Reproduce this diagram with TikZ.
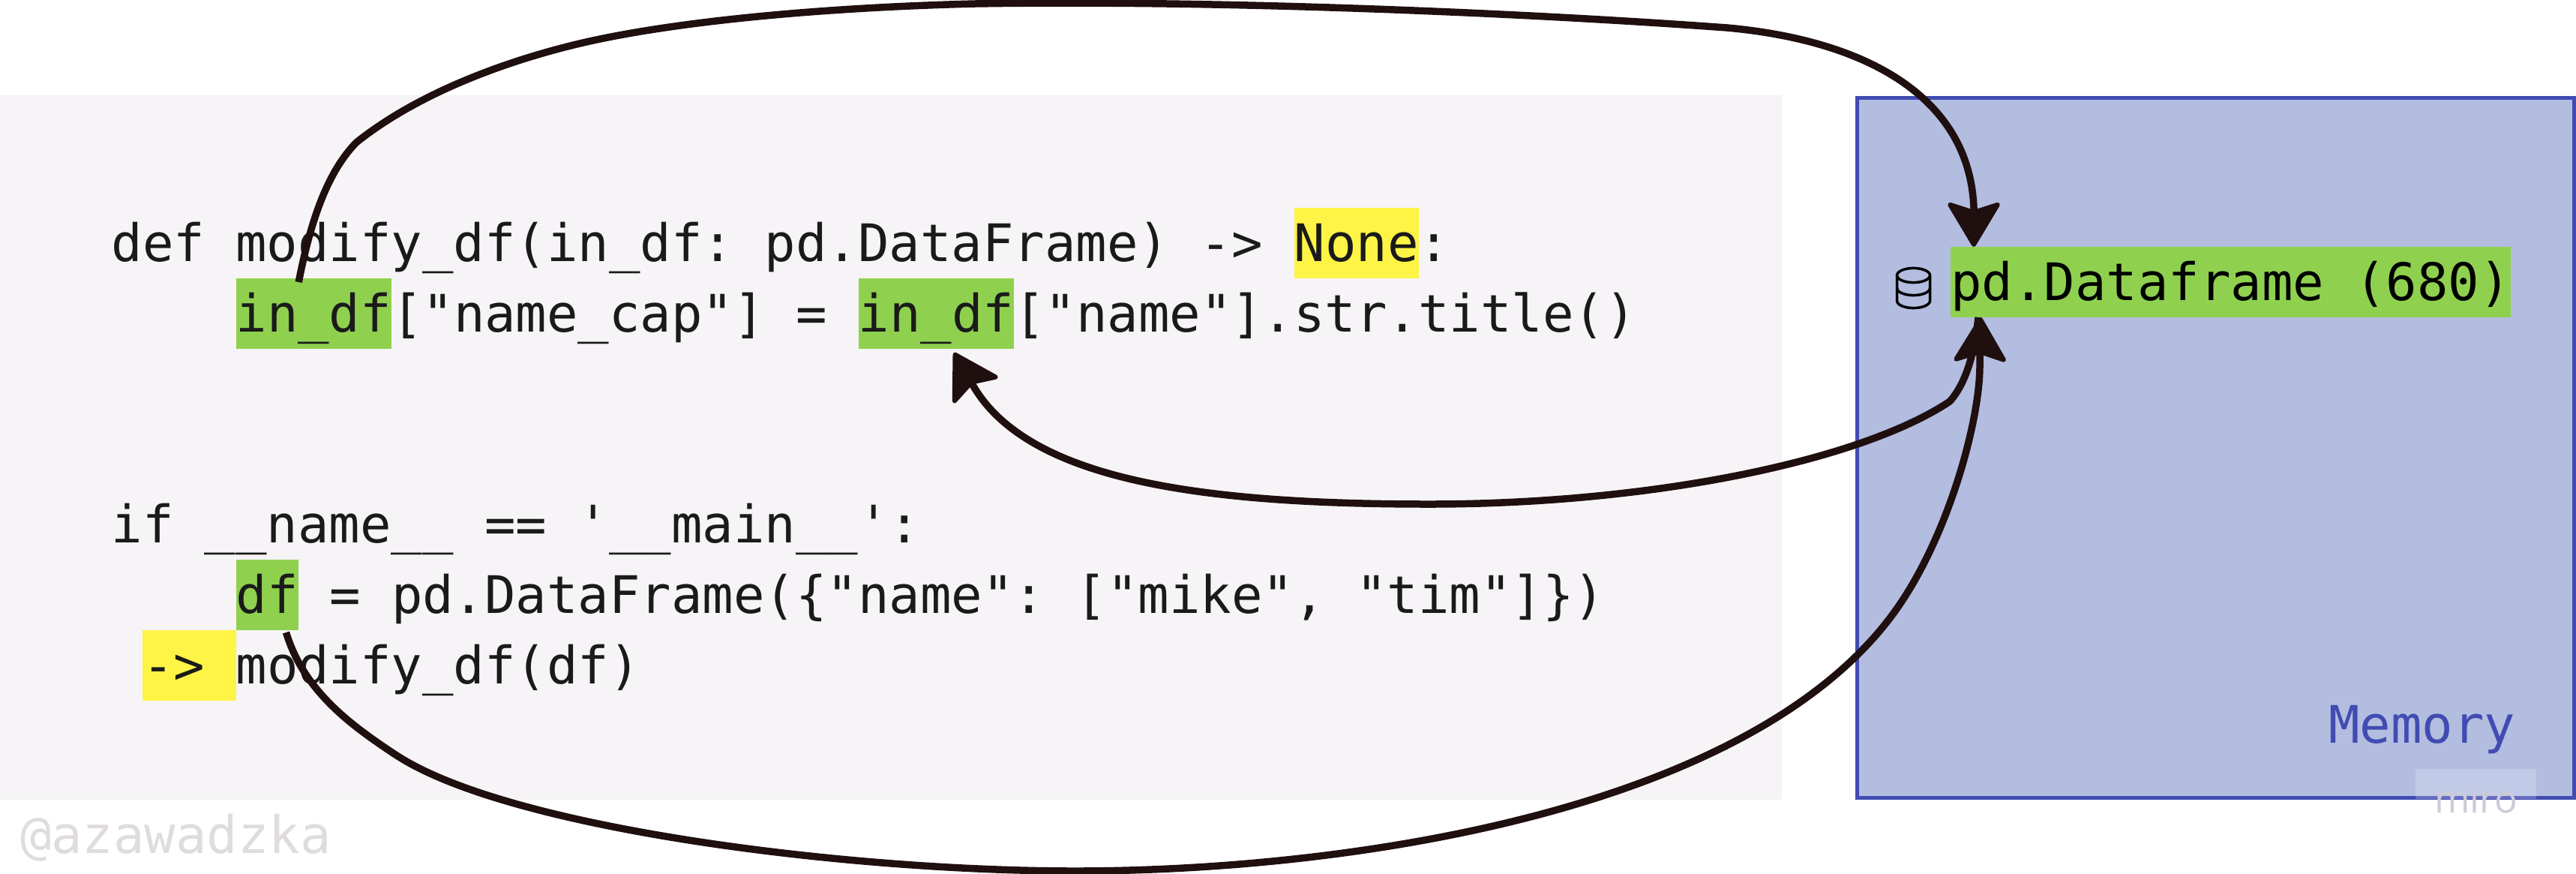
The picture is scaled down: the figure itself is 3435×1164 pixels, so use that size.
\documentclass[tikz,border=0pt]{standalone}
\usepackage{fontspec}
\setmainfont{Open Sans}
\setmonofont{DejaVu Sans Mono}
\usetikzlibrary{arrows.meta}
\definecolor{panelc}{HTML}{F6F4F6}
\definecolor{boxfill}{HTML}{B2BDE0}
\definecolor{boxline}{HTML}{414BB2}
\definecolor{greenhl}{HTML}{8FD14F}
\definecolor{yellowhl}{HTML}{FEF445}
\definecolor{codec}{HTML}{1A1A1A}
\definecolor{wire}{HTML}{200F0F}
\definecolor{markc}{HTML}{E0DCDC}
\definecolor{miroc}{HTML}{CCCBD8}
\tikzset{
  every node/.style={outer sep=0pt},
  code/.style={inner sep=0pt,anchor=base west,text=codec,
    font=\ttfamily\fontsize{34.466pt}{40pt}\selectfont},
  hl/.style={code,text height=35.5pt,text depth=11.5pt},
  greenbox/.style={hl,fill=greenhl},
  yellowbox/.style={hl,fill=yellowhl},
  wirearrow/.style={draw=wire,line width=4.75pt,line join=round,
    -{Stealth[length=32pt,width=38pt,inset=6pt,line width=3pt,round]}},
}
\begin{document}
\begin{tikzpicture}[x=0.5pt,y=-0.5pt]
\useasboundingbox (0,0) rectangle (3435,1164);
\fill[white] (0,0) rectangle (3435,1164);
\node[inner sep=0pt,anchor=north west,fill=panelc,minimum width=1188pt,minimum height=469.5pt] (panel) at (0,127) {};
\node[inner sep=0pt,anchor=north west,fill=boxfill,draw=boxline,line width=2.5pt,minimum width=478pt,minimum height=466.5pt] (memory) at (2476,130) {};
% line 1
\node[code] (l1) at (148.5,348) {def modify\_df(in\_df: pd.DataFrame) ->};
\node[yellowbox] (none) at (1725.5,348) {None};
\node[code] (l1b) at (1891.5,348) {:};
% line 2
\node[greenbox] (indfa) at (314.5,442) {in\_df};
\node[code] (l2a) at (522,442) {["name\_cap"] =};
\node[greenbox] (indfb) at (1144.5,442) {in\_df};
\node[code] (l2b) at (1352,442) {["name"].str.title()};
% main block
\node[code] (l3) at (148.5,723) {if \_\_name\_\_ == '\_\_main\_\_':};
\node[greenbox] (dfn) at (314.5,817) {df};
\node[code] (l4) at (439,817) {= pd.DataFrame(\{"name": ["mike", "tim"]\})};
\node[yellowbox,text width=62.25pt] (cur) at (190,911) {->};
\node[code] (l5) at (314.5,911) {modify\_df(df)};
% memory content
\node[greenbox,text=black] (pdn) at (2601,400) {pd.Dataframe (680)};
\node[code,text=boxline] (memlabel) at (3105,990) {Memory};
% database icon
\begin{scope}[draw=black,line width=1.75pt]
\draw (2551.5,367) ellipse [x radius=11pt,y radius=4.8pt];
\draw (2529.5,367) -- (2529.5,401) arc[start angle=180,end angle=360,x radius=11pt,y radius=4.8pt] -- (2573.5,367);
\draw (2529.5,384) arc[start angle=180,end angle=360,x radius=11pt,y radius=4.8pt];
\end{scope}
% connectors
\coordinate (aS) at ([xshift=-10pt,yshift=-2.5pt]indfa.north);
\coordinate (aE) at ([xshift=15.5pt]pdn.north west);
\coordinate (bS) at ([xshift=18.5pt]pdn.south west);
\coordinate (bE) at ([xshift=-40pt,yshift=-2.5pt]indfb.south east);
\coordinate (cS) at ([xshift=-8pt,yshift=-1.5pt]dfn.south east);
\coordinate (cE) at ([xshift=20pt]pdn.south west);
\draw[wirearrow] (aS) .. controls (415,290) and (438,228) .. (475,190)
  .. controls (560,122) and (680,80) .. (773,58)
  .. controls (900,28) and (1100,10) .. (1300,5)
  .. controls (1600,0) and (2000,15) .. (2303,37)
  .. controls (2490,54) and (2626,130) .. (2632,277) -- (aE);
\draw[wirearrow] (bS) .. controls (2633,470) and (2622,510) .. (2600,535)
  .. controls (2480,615) and (2200,672) .. (1906,672)
  .. controls (1600,672) and (1370,640) .. (1297,513) -- (bE);
\draw[wirearrow] (cS) .. controls (405,920) and (465,965) .. (529,1007)
  .. controls (680,1105) and (1130,1161) .. (1434,1161)
  .. controls (1800,1161) and (2350,1080) .. (2535,803)
  .. controls (2600,706) and (2640,560) .. (2640,487) -- (cE);
% watermarks
\node[code,text=markc] (handle) at (27,1137) {@azawadzka};
\node[inner sep=0pt,anchor=north west,fill=white,fill opacity=0.2,minimum width=80.5pt,minimum height=20pt] (miroback) at (3221,1025) {};
\node[inner sep=0pt,anchor=base west,text=miroc,font=\fontsize{25.5pt}{30pt}\selectfont] (miro) at (3246,1083) {miro};
\end{tikzpicture}
\end{document}
